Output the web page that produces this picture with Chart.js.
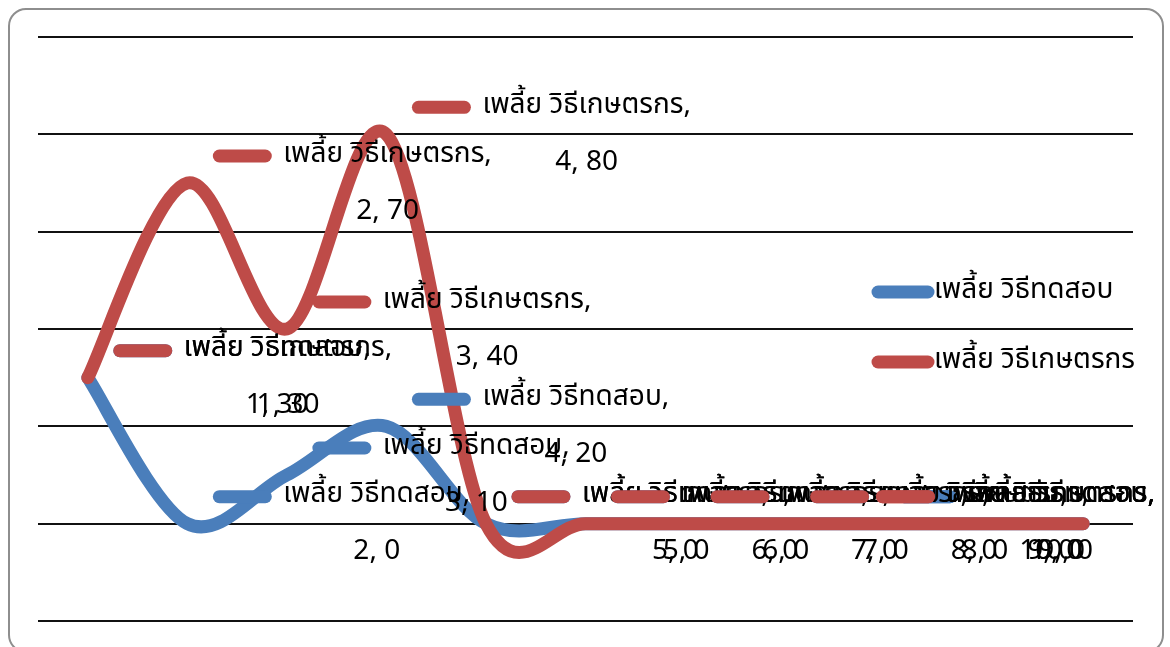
<!DOCTYPE html>
<html>
<head>
<meta charset="utf-8">
<script src="https://cdn.jsdelivr.net/npm/chart.js@4.4.1/dist/chart.umd.min.js"></script>
<style>
  html, body { margin: 0; padding: 0; background: #fff; }
  #wrap { position: relative; width: 1170px; height: 647px; overflow: hidden; }
  #frame {
    position: absolute; left: 8px; top: 8px; width: 1156px; height: 645px;
    border: 2px solid #8e8e8e; border-radius: 18px; box-sizing: border-box;
  }
  #c { position: absolute; left: 0; top: 0; }
</style>
</head>
<body>
<div id="wrap">
  <div id="frame"></div>
  <canvas id="c" width="1170" height="647"></canvas>
</div>
<script>
// Categories along the x axis (the last slot has no label of its own)
const categories = ['1', '2', '3', '4', '5', '6', '7', '8', '9', '10', ''];
// Aphid counts per method
const testMethodValues   = [30, 0, 10, 20, 0, 0, 0, 0, 0, 0, 0];
const farmerMethodValues = [30, 70, 40, 80, 0, 0, 0, 0, 0, 0, 0];
const seriesNames = ['เพลี้ย วิธีทดสอบ', 'เพลี้ย วิธีเกษตรกร'];
const seriesColors = ['#4a7ebb', '#be4b48'];
// Value axis gridline positions
const yTicks = [-20, 0, 20, 40, 60, 80, 100];

const THAI_FONT = "'Noto Sans Thai', 'Noto Sans Thai UI', Loma, Garuda, Waree, Sarabun, 'Leelawadee UI', Tahoma, 'Noto Sans', sans-serif";
const FONT_SIZE = 28;

// Excel-style smoothing: Catmull-Rom tangents (1/6 of the neighbour span)
const excelSmooth = {
  id: 'excelSmooth',
  beforeDatasetDraw(chart, args) {
    const meta = args.meta;
    meta.dataset.updateControlPoints(chart.chartArea, 'x');
    const pts = meta.data;
    for (let i = 0; i < pts.length; i++) {
      const p = pts[i];
      const prev = pts[i - 1] || p;
      const next = pts[i + 1] || p;
      const dx = (next.x - prev.x) / 6;
      const dy = (next.y - prev.y) / 6;
      p.cp1x = p.x - dx; p.cp1y = p.y - dy;
      p.cp2x = p.x + dx; p.cp2y = p.y + dy;
    }
  }
};

// Data labels: legend key + "series name," above, "category, value" below
const pointLabels = {
  id: 'pointLabels',
  afterDatasetsDraw(chart) {
    const ctx = chart.ctx;
    ctx.save();
    ctx.font = FONT_SIZE + 'px ' + THAI_FONT;
    ctx.textBaseline = 'middle';
    const rightLimit = 1155;
    chart.data.datasets.forEach((ds, di) => {
      const meta = chart.getDatasetMeta(di);
      meta.data.forEach((pt, i) => {
        const cat = chart.data.labels[i];
        if (cat === '') return;
        const line1 = ds.label + ',';
        const line2 = cat + ', ' + ds.data[i];
        const w1 = ctx.measureText(line1).width;
        let keyX = pt.x + 26;
        let textX = keyX + 70;
        const over = textX + w1 - rightLimit;
        if (over > 0) { keyX -= over; textX -= over; }
        const y1 = pt.y - 27, y2 = pt.y + 30;
        ctx.strokeStyle = ds.borderColor;
        ctx.lineWidth = 13;
        ctx.lineCap = 'round';
        ctx.beginPath();
        ctx.moveTo(keyX + 6, y1);
        ctx.lineTo(keyX + 52, y1);
        ctx.stroke();
        ctx.fillStyle = '#000';
        ctx.textAlign = 'left';
        ctx.fillText(line1, textX, y1);
        ctx.textAlign = 'center';
        ctx.fillText(line2, textX + w1 / 2, y2);
      });
    });
    ctx.restore();
  }
};

// Legend drawn over the right side of the plot
const sideLegend = {
  id: 'sideLegend',
  afterDraw(chart) {
    const ctx = chart.ctx;
    ctx.save();
    ctx.font = FONT_SIZE + 'px ' + THAI_FONT;
    ctx.textBaseline = 'middle';
    ctx.textAlign = 'left';
    const rows = [292, 362];
    chart.data.datasets.forEach((ds, di) => {
      const y = rows[di];
      ctx.strokeStyle = ds.borderColor;
      ctx.lineWidth = 13;
      ctx.lineCap = 'round';
      ctx.beginPath();
      ctx.moveTo(878, y);
      ctx.lineTo(928, y);
      ctx.stroke();
      ctx.fillStyle = '#000';
      ctx.fillText(ds.label, 934, y);
    });
    ctx.restore();
  }
};

// Red series is drawn on top of the blue one
const datasets = [
  { label: seriesNames[0], data: testMethodValues, borderColor: seriesColors[0], order: 1 },
  { label: seriesNames[1], data: farmerMethodValues, borderColor: seriesColors[1], order: 0 }
].map(d => Object.assign(d, {
  borderWidth: 13,
  borderCapStyle: 'round',
  borderJoinStyle: 'round',
  tension: 0.4,
  pointRadius: 0,
  pointHoverRadius: 0,
  fill: false,
  clip: false
}));

new Chart(document.getElementById('c'), {
  type: 'line',
  data: { labels: categories, datasets },
  options: {
    responsive: false,
    animation: false,
    events: [],
    layout: { padding: { left: 38, right: 37, top: 37, bottom: 26 } },
    plugins: { legend: { display: false }, tooltip: { enabled: false }, title: { display: false } },
    scales: {
      x: {
        type: 'category',
        offset: true,
        display: false,
        grid: { display: false }
      },
      y: {
        min: yTicks[0],
        max: yTicks[yTicks.length - 1],
        afterBuildTicks(scale) { scale.ticks = yTicks.map(v => ({ value: v })); },
        ticks: { display: false },
        border: { display: false },
        grid: { drawTicks: false, color: '#111', lineWidth: 2 }
      }
    }
  },
  plugins: [excelSmooth, pointLabels, sideLegend]
});
</script>
</body>
</html>
